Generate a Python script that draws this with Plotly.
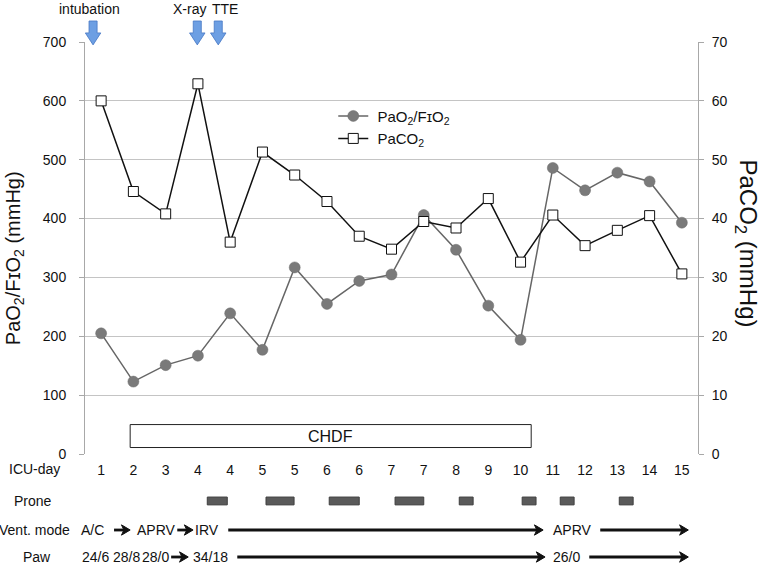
import plotly.graph_objects as go

# ---------------- data ----------------
icu_day_labels = ["1", "2", "3", "4", "4", "5", "5", "6", "6", "7", "7",
                  "8", "9", "10", "11", "12", "13", "14", "15"]
pao2_fio2 = [205, 123, 151, 167, 239, 177, 317, 255, 294, 305, 406,
             347, 252, 194, 486, 448, 478, 463, 393]
paco2 = [60.0, 44.6, 40.8, 62.9, 36.0, 51.3, 47.4, 42.9, 37.0, 34.8, 39.5,
         38.4, 43.4, 32.6, 40.6, 35.4, 38.0, 40.5, 30.6]

# events (x in category-index units)
event_labels = ["intubation", "X-ray", "TTE"]
event_label_pos = [-0.37, 2.73, 3.84]
event_arrow_pos = [-0.25, 2.98, 3.63]

# CHDF period (index units) and box height (left-axis units)
chdf_span = [0.9, 13.33]
chdf_y = [11, 50]

# prone sessions (index units)
prone_periods = [(3.29, 3.91), (5.11, 5.98), (7.07, 8.0), (9.11, 10.0),
                 (11.1, 11.53), (13.05, 13.48), (14.23, 14.66), (16.06, 16.49)]

# ventilator mode row: texts and arrows
vent_texts = [("A/C", -0.28), ("APRV", 1.72), ("IRV", 3.27), ("APRV", 14.6)]
vent_arrows = [(0.40, 0.90), (2.36, 2.85), (3.94, 13.70), (15.47, 18.20)]

# Paw row
paw_texts = [("24/6", -0.17), ("28/8", 0.775), ("28/0", 1.69), ("34/18", 3.39), ("26/0", 14.43)]
paw_arrows = [(2.17, 2.70), (4.22, 13.76), (15.13, 18.20)]

x_idx = list(range(len(icu_day_labels)))

FONT = "Liberation Sans, Arial, sans-serif"

fig = go.Figure()

fig.add_trace(go.Scatter(
    x=x_idx, y=pao2_fio2, mode="lines+markers",
    name="\u00a0PaO<sub>2</sub>/F\u026aO<sub>2</sub>",
    line=dict(color="#666666", width=1.5),
    marker=dict(symbol="circle", size=11, color="#7a7a7a",
                line=dict(color="#6a6a6a", width=0.5)),
    yaxis="y",
))
fig.add_trace(go.Scatter(
    x=x_idx, y=paco2, mode="lines+markers",
    name="\u00a0PaCO<sub>2</sub>",
    line=dict(color="#111111", width=1.5),
    marker=dict(symbol="square", size=10, color="white",
                line=dict(color="#111111", width=1)),
    yaxis="y2",
))

shapes = []
annotations = []

# CHDF box
shapes.append(dict(type="rect", xref="x", yref="y",
                   x0=chdf_span[0], x1=chdf_span[1], y0=chdf_y[0], y1=chdf_y[1],
                   line=dict(color="#222222", width=1), fillcolor="white", layer="above"))
annotations.append(dict(x=(chdf_span[0] + chdf_span[1]) / 2, y=(chdf_y[0] + chdf_y[1]) / 2,
                        xref="x", yref="y", text="CHDF", showarrow=False,
                        xanchor="center", yanchor="middle",
                        font=dict(size=16, color="#111", family=FONT)))

# event arrows (block arrows above the plot)
y_top, y_head, y_tip = 1.051, 1.022, 0.993
for lab, lx, ax_ in zip(event_labels, event_label_pos, event_arrow_pos):
    sw, hw = 0.125, 0.24
    path = (f"M {ax_-sw},{y_top} L {ax_+sw},{y_top} L {ax_+sw},{y_head} "
            f"L {ax_+hw},{y_head} L {ax_},{y_tip} L {ax_-hw},{y_head} "
            f"L {ax_-sw},{y_head} Z")
    shapes.append(dict(type="path", xref="x", yref="paper", path=path,
                       fillcolor="#6d9fe3", line=dict(color="#4677c4", width=0.8),
                       layer="above"))
    annotations.append(dict(x=lx, y=1.080, xref="x", yref="paper", text=lab,
                            showarrow=False, xanchor="center", yanchor="middle",
                            font=dict(size=14, color="#111", family=FONT)))

# row labels
row_y = {"icu": -0.0364, "prone": -0.114, "vent": -0.1845, "paw": -0.25}
annotations.append(dict(x=-0.037, y=row_y["icu"], xref="paper", yref="paper",
                        text="ICU-day", showarrow=False, xanchor="right", yanchor="middle",
                        font=dict(size=14, color="#111", family=FONT)))
annotations.append(dict(x=-0.085, y=row_y["prone"], xref="paper", yref="paper",
                        text="Prone", showarrow=False, xanchor="center", yanchor="middle",
                        font=dict(size=14, color="#111", family=FONT)))
annotations.append(dict(x=-0.083, y=row_y["vent"], xref="paper", yref="paper",
                        text="Vent. mode", showarrow=False, xanchor="center", yanchor="middle",
                        font=dict(size=14, color="#111", family=FONT)))
annotations.append(dict(x=-0.078, y=row_y["paw"], xref="paper", yref="paper",
                        text="Paw", showarrow=False, xanchor="center", yanchor="middle",
                        font=dict(size=14, color="#111", family=FONT)))

# prone bars
for p0, p1 in prone_periods:
    shapes.append(dict(type="rect", xref="x", yref="paper", x0=p0, x1=p1,
                       y0=row_y["prone"] - 0.0095, y1=row_y["prone"] + 0.0095,
                       fillcolor="#5a5a5a", line=dict(color="#3f3f3f", width=1)))

HEAD_LEN = 0.27   # index units (~9 px)
HEAD_HALF = 0.0125  # paper units (~5 px)


def add_row(texts, arrows, yy):
    for t, tx in texts:
        annotations.append(dict(x=tx, y=yy, xref="x", yref="paper", text=t,
                                showarrow=False, xanchor="center", yanchor="middle",
                                font=dict(size=14, color="#111", family=FONT)))
    for a0, a1 in arrows:
        shapes.append(dict(type="line", xref="x", yref="paper",
                           x0=a0, x1=a1 - HEAD_LEN * 0.6, y0=yy, y1=yy,
                           line=dict(color="#111", width=2.8)))
        path = (f"M {a1},{yy} L {a1-HEAD_LEN},{yy+HEAD_HALF} "
                f"L {a1-HEAD_LEN*0.72},{yy} L {a1-HEAD_LEN},{yy-HEAD_HALF} Z")
        shapes.append(dict(type="path", xref="x", yref="paper", path=path,
                           fillcolor="#111", line=dict(color="#111", width=1)))

add_row(vent_texts, vent_arrows, row_y["vent"])
add_row(paw_texts, paw_arrows, row_y["paw"])

# axis titles
annotations.append(dict(x=-0.116, y=0.475, xref="paper", yref="paper",
                        text="PaO<sub>2</sub>/F\u026aO<sub>2</sub> (mmHg)", textangle=-90,
                        showarrow=False, xanchor="center", yanchor="middle",
                        font=dict(size=20, color="#111", family=FONT)))
annotations.append(dict(x=1.079, y=0.51, xref="paper", yref="paper",
                        text="PaCO<sub>2</sub> (mmHg)", textangle=90,
                        showarrow=False, xanchor="center", yanchor="middle",
                        font=dict(size=24, color="#111", family=FONT)))

fig.update_layout(
    width=765, height=574,
    margin=dict(l=85, r=67, t=42, b=120),
    paper_bgcolor="white", plot_bgcolor="white",
    font=dict(family=FONT, size=14, color="#111"),
    showlegend=True,
    legend=dict(x=0.405, y=0.86, xanchor="left", yanchor="top",
                bgcolor="rgba(0,0,0,0)", font=dict(size=15, color="#111", family=FONT),
                tracegroupgap=0),
    xaxis=dict(range=[-0.5, 18.5], tickmode="array", tickvals=x_idx,
               ticktext=icu_day_labels, showgrid=False, zeroline=False,
               showline=False, ticks="", ticklabelstandoff=6,
               tickfont=dict(size=14, color="#111", family=FONT)),
    yaxis=dict(range=[0, 700], dtick=100, showgrid=True, gridcolor="#c4c4c4",
               gridwidth=1, zeroline=False, showline=True, linecolor="#a8a8a8",
               linewidth=1, ticks="outside", ticklen=5, tickcolor="#a8a8a8",
               ticklabelstandoff=10,
               tickfont=dict(size=14, color="#111", family=FONT)),
    yaxis2=dict(range=[0, 70], dtick=10, overlaying="y", side="right",
                showgrid=False, zeroline=False, showline=True, linecolor="#a8a8a8",
                linewidth=1, ticks="outside", ticklen=5, tickcolor="#a8a8a8",
                ticklabelstandoff=5,
                tickfont=dict(size=14, color="#111", family=FONT)),
    shapes=shapes, annotations=annotations,
)

fig.write_html("out.html", config={"displayModeBar": False},
               post_script="document.body.style.margin='0px';")
